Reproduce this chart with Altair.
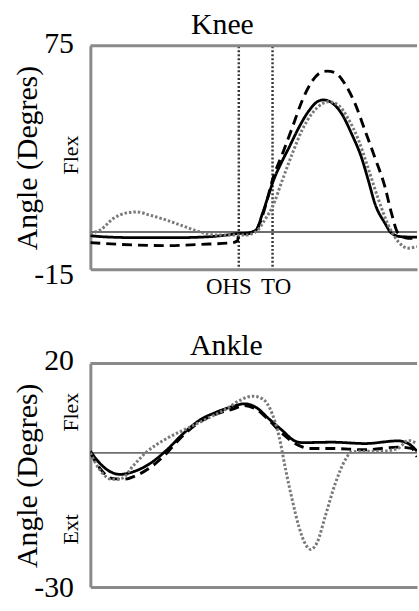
import altair as alt
import pandas as pd

SERIES = ["Series 1", "Series 2", "Series 3"]  # solid, dashed, dotted
FONT = "Liberation Serif"

# ---------------- Knee (degrees vs % of gait cycle) ----------------
knee_solid_x = [0, 5, 15, 25, 35, 42, 45.3, 47.6, 50.7, 52.7, 54.7, 55.7, 58.8, 60.8, 63.8, 66.9, 69.9,
                71.4, 74, 77, 80, 83, 85.1, 87.1, 90.2, 92.2, 95.2, 100]
knee_solid_y = [-1.5, -2, -2.3, -2.3, -2, -1.2, -0.6, -0.5, 0.8, 7.5, 15.5, 19.5, 28.8, 34, 42, 48.8, 52.8,
                53.2, 52, 47.5, 39.5, 30, 20.8, 11.5, 3.5, -0.5, -1.9, -2.1]

knee_dashed_x = [0, 13.2, 23.3, 33.4, 43.6, 45.1, 45.4, 47.6, 50.7, 53.7, 55.7, 58.8, 61.8, 64.8, 67.9,
                 70.9, 72.4, 75, 78, 81.1, 84.1, 87.1, 90.2, 92.2, 94.2, 97.3, 100]
knee_dashed_y = [-4.3, -5.2, -5.5, -5, -4.3, -3.5, -0.5, -0.8, 0.8, 10.9, 20.8, 31.5, 42, 52.8, 60.8,
                 64.5, 64.8, 64.1, 59.5, 51.5, 40.8, 30, 18.1, 7.5, -0.5, -2.5, -2.5]

knee_dotted_x = [0, 3, 7.1, 11.1, 14.2, 18.2, 23.3, 28.4, 33.4, 38.5, 43.6, 47.6, 50.7, 53.7, 55.7, 58.8,
                 61.8, 64.8, 67.9, 70.9, 72.9, 76, 79, 82.1, 85.1, 88.1, 91.2, 94.2, 97.3, 100]
knee_dotted_y = [-0.5, 0.8, 5.5, 7.7, 8.1, 6.8, 4.8, 2.4, 0.1, -1.2, -1.2, -1.2, 0.1, 5.5, 10, 21,
                 31.5, 41, 47.8, 51.6, 52.5, 51, 45.5, 37, 25.5, 13.5, 2.8, -3.8, -6.5, -5.9]

# ---------------- Ankle ----------------
ankle_solid_x = [0, 3, 6.1, 9.1, 13.2, 18.2, 23.3, 28.4, 33.4, 38.5, 43.6, 47.1, 50.7, 54.7, 58.8, 62.3,
                 64.8, 74, 84.1, 94.2, 97.3, 100]
ankle_solid_y = [0.4, -2.4, -4.2, -4.8, -4.2, -2.4, 0.6, 4.3, 7.3, 9.1, 10.4, 11, 10.2, 7.6, 5, 2.8,
                 2.3, 2.4, 2.1, 2.7, 2.1, 0.4]

ankle_dashed_x = [0, 3, 6.6, 10.1, 14.2, 19.2, 23.3, 27.4, 33.4, 38.5, 43.6, 47.1, 50.7, 54.7, 58.8,
                  63.8, 66.9, 74, 84.1, 94.2, 98.3, 100]
ankle_dashed_y = [0, -3.5, -5.7, -5.9, -5, -2.8, -0.1, 3.2, 6.9, 8.7, 9.8, 10.6, 9.8, 7.3, 4.3,
                  1.7, 1, 1, 0.7, 1.3, 1, -0.9]

ankle_dotted_x = [0, 3, 6.6, 9.6, 13.2, 17.2, 23.3, 29.4, 35.5, 41.5, 45.6, 49.6, 52.7, 55.7, 57.8,
                  59.8, 61.8, 63.8, 65.9, 67.4, 69.4, 71.9, 75, 78, 80, 84.1, 89.2, 94.2, 97.3, 100]
ankle_dotted_y = [0, -3.9, -5.9, -5.7, -2.8, 0.2, 3.2, 5.4, 7.6, 9.8, 11.7, 12.7, 12.1, 8.7, 3.6,
                  -3.8, -10.5, -16.4, -20.5, -21.6, -20.1, -14.2, -6.8, -1.6, 0.2, 0.4, 0.4, 1, 2.8, 2.1]

# gait events (% of cycle) and their labels
event_x = [45.3, 55.5]
event_names = ["OHS", "TO"]

knee_range = [-15, 75]
ankle_range = [-30, 20]


def long_table(xs, ys):
    rows = []
    for name, xv, yv in zip(SERIES, xs, ys):
        for a, b in zip(xv, yv):
            rows.append({"x": a, "y": b, "series": name})
    return pd.DataFrame(rows)


def panel(title, title_pos, xs, ys, yrange, events, side_labels, label_shift):
    df = long_table(xs, ys)
    ymin, ymax = yrange

    if events:
        expr = " : ".join(
            f"datum.value == {v} ? '{n}'" for v, n in zip(event_x[:-1], event_names[:-1])
        ) + f" : '{event_names[-1]}'"
        xaxis = alt.Axis(
            values=event_x, labelExpr=expr, title=None,
            grid=True, gridColor="#3a3a3a", gridDash=[2, 2], gridWidth=2.5,
            ticks=False, tickSize=0, domain=True, domainColor="#8a8a8a", domainWidth=3,
            labelFont=FONT, labelFontSize=23, labelColor="black", labelPadding=6,
            labelOffset={"condition": {"test": f"datum.value < {sum(event_x)/2}", "value": -10}, "value": 4},
        )
    else:
        xaxis = alt.Axis(values=[], title=None, grid=False, ticks=False, tickSize=0, labels=False,
                         domain=True, domainColor="#8a8a8a", domainWidth=3)

    yaxis = alt.Axis(
        values=[ymin, ymax], labelExpr="'' + datum.value", title="Angle (Degres)", grid=False,
        ticks=False, tickSize=0, domain=True, domainColor="#8a8a8a", domainWidth=3,
        labelFont=FONT, labelFontSize=30, labelColor="black", labelPadding=17,
        labelOffset={"condition": {"test": f"datum.value == {ymin}", "value": label_shift[0]},
                     "value": label_shift[1]},
        titleFont=FONT, titleFontSize=30, titleFontWeight="normal", titleColor="black",
        titleX=-48,
    )

    xscale = alt.Scale(domain=[0, 100], nice=False, zero=False)
    yscale = alt.Scale(domain=[ymin, ymax], nice=False, zero=False)

    lines = alt.Chart(df).mark_line(interpolate="monotone", clip=True).encode(
        x=alt.X("x:Q", scale=xscale, axis=xaxis),
        y=alt.Y("y:Q", scale=yscale, axis=yaxis),
        color=alt.Color("series:N", scale=alt.Scale(domain=SERIES, range=["#000000", "#000000", "#7a7a7a"]),
                        legend=None),
        strokeDash=alt.StrokeDash("series:N",
                                  scale=alt.Scale(domain=SERIES, range=[[1, 0], [10, 6], [2.5, 2]]),
                                  legend=None),
        strokeWidth=alt.StrokeWidth("series:N", scale=alt.Scale(domain=SERIES, range=[2.8, 3, 3]),
                                    legend=None),
    )

    zero_rule = alt.Chart().mark_rule(color="#6e6e6e", strokeWidth=1.8).encode(y=alt.datum(0))
    top_rule = alt.Chart().mark_rule(color="#8a8a8a", strokeWidth=3).encode(y=alt.datum(ymax))

    texts = []
    for label, ypix in side_labels:
        texts.append(
            alt.Chart().mark_text(text=label, angle=270, font=FONT, fontSize=22, color="black",
                                  align="center", baseline="middle")
            .encode(x=alt.value(-19), y=alt.value(ypix))
        )

    tx, ty = title_pos
    head = alt.Chart().mark_text(text=title, font=FONT, fontSize=30, color="black",
                                 align="center", baseline="alphabetic").encode(
        x=alt.value(tx), y=alt.value(ty))

    return alt.layer(zero_rule, top_rule, lines, head, *texts).properties(width=329, height=225)


knee = panel("Knee", (133, -12), [knee_solid_x, knee_dashed_x, knee_dotted_x],
             [knee_solid_y, knee_dashed_y, knee_dotted_y], knee_range, True, [("Flex", 110)], (5, -2))
ankle = panel("Ankle", (137, -9), [ankle_solid_x, ankle_dashed_x, ankle_dotted_x],
              [ankle_solid_y, ankle_dashed_y, ankle_dotted_y], ankle_range, False,
              [("Flex", 49), ("Ext", 167)], (1, -3))

chart = alt.vconcat(knee, ankle, spacing=95, bounds="flush").properties(
    padding={"left": 12, "top": 8, "right": 0, "bottom": 0},
    background="white",
).configure_view(stroke=None)

chart.save("out.html", embed_options={"renderer": "svg", "actions": False})
